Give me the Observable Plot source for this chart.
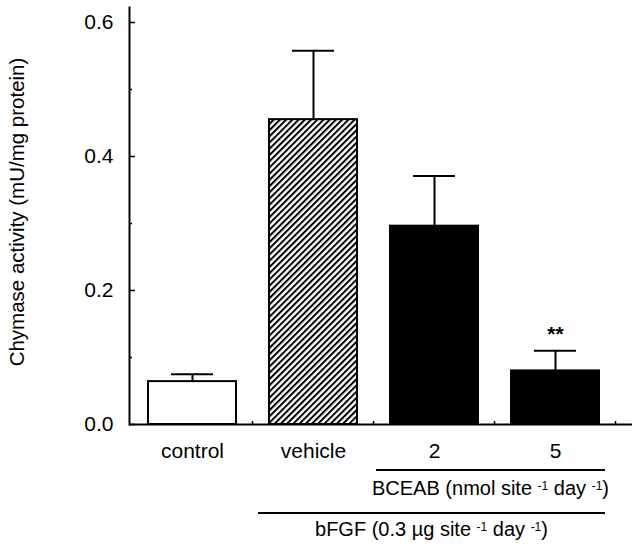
<!DOCTYPE html>
<html><head><meta charset="utf-8">
<script src="https://cdn.jsdelivr.net/npm/d3@7"></script>
<script src="https://cdn.jsdelivr.net/npm/@observablehq/plot@0.6"></script>
<style>
body{margin:0;background:#fff;}
#chart svg{font-family:"Liberation Sans",Arial,Helvetica,sans-serif;}
</style>
</head><body><div id="chart"></div>
<script>
// ---- data ----
const groups = ["control", "vehicle", "2", "5"];
const means  = [0.064, 0.455, 0.296, 0.080];
const sems   = [0.011, 0.103, 0.075, 0.030];
const signif = ["", "", "", "**"];
const yTicks = [0, 0.2, 0.4, 0.6];
const yMinorTicks = [0.1, 0.3, 0.5];
const yLabel = "Chymase activity (mU/mg protein)";
const bceabLabel = ["BCEAB (nmol site ", "-1", " day ", "-1", ")"];
const bfgfLabel  = ["bFGF (0.3 \u00b5g site ", "-1", " day ", "-1", ")"];

const data = groups.map((g, i) => ({group: g, mean: means[i], sem: sems[i], sig: signif[i]}));
const noText = () => "";

const chart = Plot.plot({
  width: 640,
  height: 547,
  marginLeft: 129,
  marginRight: 8,
  marginTop: 7,
  marginBottom: 123,
  style: {fontSize: "21px", fontFamily: "Liberation Sans, Arial, sans-serif", background: "#fff", color: "#000"},
  x: {domain: groups, range: [130, 617], paddingInner: 0.272, paddingOuter: 0.14, label: null},
  y: {domain: [0, 0.6224], label: null},
  color: {type: "ordinal", domain: groups, range: ["white", "url(#hatch)", "black", "black"]},
  marks: [
    Plot.barY(data, {x: "group", y: "mean", fill: "group", stroke: "black", strokeWidth: 2}),
    Plot.ruleX(data, {x: "group", y1: "mean", y2: d => d.mean + d.sem, stroke: "black", strokeWidth: 2}),
    Plot.tickY(data, {x: "group", y: d => d.mean + d.sem, stroke: "black", strokeWidth: 2, inset: 23}),
    Plot.text(data.filter(d => d.sig), {x: "group", y: d => d.mean + d.sem, text: "sig", fontWeight: "bold", fontSize: 21, dy: -17, lineAnchor: "middle"}),
    Plot.ruleY([0], {stroke: "black", strokeWidth: 2}),
    Plot.frame({anchor: "left", stroke: "black", strokeWidth: 2}),
    Plot.axisY({ticks: yTicks, tickSize: 0, tickPadding: 16, tickFormat: ".1f", label: null, fontSize: 21}),
    Plot.axisY({ticks: yTicks, tickSize: -6, tickFormat: noText, label: null, strokeWidth: 1.5}),
    Plot.axisY({ticks: yMinorTicks, tickSize: -3, tickFormat: noText, label: null, strokeWidth: 1.5}),
    Plot.axisX({tickSize: 0, tickPadding: 19, label: null, fontSize: 21}),
    Plot.text([yLabel], {frameAnchor: "left", rotate: -90, dx: -112, dy: -4, text: d => d, fontSize: 20.5, textAnchor: "middle", lineAnchor: "middle"})
  ]
});

// hatch pattern for the vehicle bar
const svg = d3.select(chart);
const defs = svg.insert("defs", ":first-child");
const pat = defs.append("pattern").attr("id", "hatch").attr("patternUnits", "userSpaceOnUse")
  .attr("width", 4.4).attr("height", 4.4).attr("patternTransform", "rotate(45)");
pat.append("rect").attr("width", 4.4).attr("height", 4.4).attr("fill", "white");
pat.append("line").attr("x1", 1).attr("y1", 0).attr("x2", 1).attr("y2", 4.4).attr("stroke", "black").attr("stroke-width", 2);

// annotations under the x axis, positioned from the scales
const xs = chart.scale("x"), ys = chart.scale("y");
const bw = xs.bandwidth, step = xs.step;
const y0 = ys.apply(0);
const ann = svg.append("g").attr("fill", "black").attr("stroke", "black");

// small ticks on the baseline at band boundaries
groups.forEach((g, i) => {
  if (i === 0) return;
  const bx = xs.apply(g) - (step - bw) / 2;
  ann.append("line").attr("x1", bx).attr("x2", bx).attr("y1", y0).attr("y2", y0 - 3).attr("stroke-width", 1.5);
});
{
  const bx = xs.apply(groups[3]) + bw + (step - bw) / 2;
  ann.append("line").attr("x1", bx).attr("x2", bx).attr("y1", y0).attr("y2", y0 - 3).attr("stroke-width", 1.5);
}

function bracket(xa, xb, lineY, textY, parts) {
  ann.append("line").attr("x1", xa).attr("x2", xb).attr("y1", lineY).attr("y2", lineY).attr("stroke-width", 2);
  const t = ann.append("text").attr("x", (xa + xb) / 2).attr("y", textY)
    .attr("text-anchor", "middle").attr("stroke", "none").attr("font-size", 20);
  let raised = false;
  parts.forEach((p, i) => {
    const sup = i % 2 === 1;
    const ts = t.append("tspan").text(p);
    if (sup) { ts.attr("font-size", 12).attr("dy", -5); raised = true; }
    else if (raised) { ts.attr("dy", 5); raised = false; }
  });
}
const xEnd = xs.apply(groups[3]) + bw + 6;
bracket(xs.apply(groups[2]) - 14, xEnd, y0 + 46, y0 + 71, bceabLabel);
bracket(xs.apply(groups[1]) - 11, xEnd, y0 + 89, y0 + 112, bfgfLabel);

document.getElementById("chart").append(chart);
</script>
</body></html>
